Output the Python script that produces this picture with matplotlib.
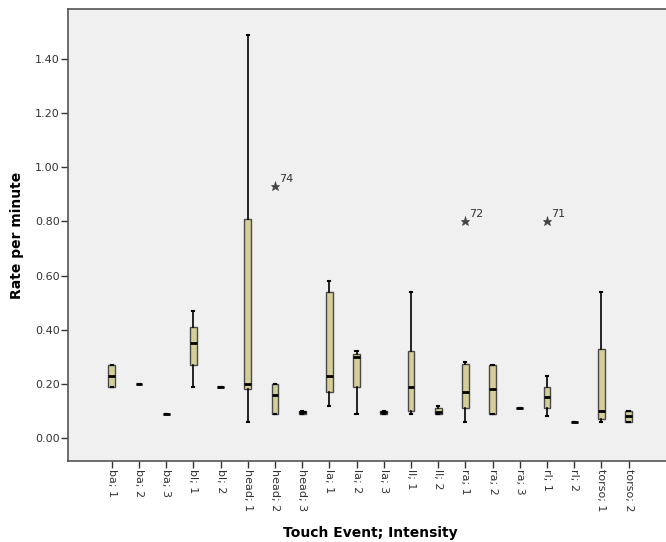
import matplotlib.pyplot as plt

# %% Data
labels = ['ba; 1', 'ba; 2', 'ba; 3', 'bl; 1', 'bl; 2', 'head; 1', 'head; 2', 'head; 3',
          'la; 1', 'la; 2', 'la; 3', 'll; 1', 'll; 2', 'ra; 1', 'ra; 2', 'ra; 3',
          'rl; 1', 'rl; 2', 'torso; 1', 'torso; 2']
whislo = [0.19, 0.20, 0.09, 0.19, 0.19, 0.06, 0.09, 0.09, 0.12, 0.09,
          0.09, 0.09, 0.09, 0.06, 0.09, 0.11, 0.08, 0.06, 0.06, 0.06]
q1 = [0.19, 0.20, 0.09, 0.27, 0.19, 0.18, 0.09, 0.09, 0.17, 0.19,
      0.09, 0.10, 0.09, 0.11, 0.09, 0.11, 0.11, 0.06, 0.07, 0.06]
med = [0.23, 0.20, 0.09, 0.35, 0.19, 0.20, 0.16, 0.095, 0.23, 0.30,
       0.095, 0.19, 0.095, 0.17, 0.18, 0.11, 0.15, 0.06, 0.10, 0.08]
q3 = [0.27, 0.20, 0.09, 0.41, 0.19, 0.81, 0.20, 0.10, 0.54, 0.31,
      0.10, 0.32, 0.11, 0.275, 0.27, 0.11, 0.19, 0.06, 0.33, 0.10]
whishi = [0.27, 0.20, 0.09, 0.47, 0.19, 1.49, 0.20, 0.10, 0.58, 0.32,
          0.10, 0.54, 0.12, 0.28, 0.27, 0.11, 0.23, 0.06, 0.54, 0.10]
# extreme values: (category index, value, case number)
outliers = [(6, 0.93, '74'), (13, 0.80, '72'), (16, 0.80, '71')]

# %% Build stats for bxp
stats = []
for i in range(len(labels)):
    stats.append({'label': labels[i], 'whislo': whislo[i], 'q1': q1[i], 'med': med[i],
                  'q3': q3[i], 'whishi': whishi[i], 'fliers': []})

fig = plt.figure(figsize=(6.66, 5.42), dpi=100)
ax = fig.add_axes([0.1021, 0.1494, 0.907, 0.834])
ax.set_facecolor('#f0f0f0')

positions = list(range(1, len(labels) + 1))
ax.bxp(stats, positions=positions, widths=0.25, patch_artist=True, showfliers=False,
       boxprops=dict(facecolor='#d4cf98', edgecolor='#4a4a4a', linewidth=1),
       medianprops=dict(color='black', linewidth=2),
       whiskerprops=dict(color='black', linewidth=1.2),
       capprops=dict(color='black', linewidth=1.5), capwidths=0.08)

for idx, val, case in outliers:
    ax.plot(positions[idx], val, marker='*', color='#444444', markersize=6.5,
            markeredgewidth=0.5, linestyle='none')
    ax.annotate(case, (positions[idx], val), xytext=(3, 3), textcoords='offset points',
                fontsize=8, color='#333333')

ax.set_xlim(-0.607, 21.6)
ax.set_ylim(-0.085, 1.585)
ax.set_yticks([0.0, 0.2, 0.4, 0.6, 0.8, 1.0, 1.2, 1.4])
ax.set_yticklabels(['%.2f' % t for t in ax.get_yticks()], fontsize=8, color='#333333')
ax.set_xticks(positions)
ax.set_xticklabels(labels, rotation=270, fontsize=8, color='#333333')
ax.tick_params(direction='out', length=5, width=1, color='#333333', pad=1)

for side in ['left', 'bottom', 'top']:
    ax.spines[side].set_color('#555555')
    ax.spines[side].set_linewidth(1.2)
ax.spines['right'].set_visible(False)

ax.set_ylabel('Rate per minute', fontsize=10, fontweight='bold', labelpad=8)
ax.set_xlabel('Touch Event; Intensity', fontsize=10, fontweight='bold', labelpad=10)

plt.savefig('out.png', dpi=100)
plt.close()
